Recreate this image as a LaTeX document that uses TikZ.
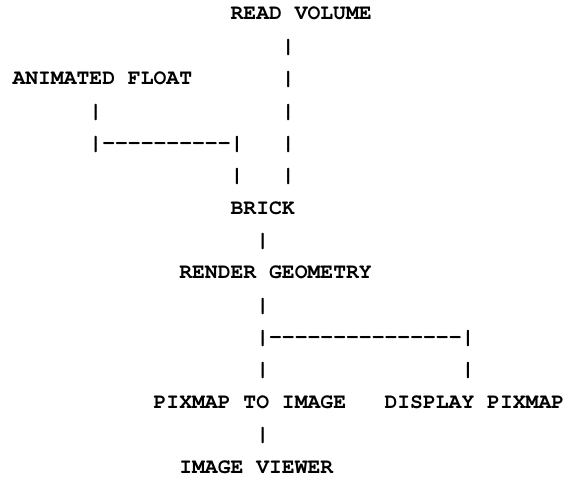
\documentclass[tikz,border=0pt]{standalone}
\usepackage[T1]{fontenc}
\usepackage{courier}
\newcommand\hy{-\kern0pt }
\newcommand\monofont{\fontfamily{pcr}\fontseries{b}\selectfont}
\begin{document}
\begin{tikzpicture}[x=0.75pt,y=-0.75pt,
  txt/.style={anchor=base west,inner sep=0pt,outer sep=0pt,
    font=\fontsize{16.04pt}{20pt}\monofont}]
\useasboundingbox (0,0) rectangle (564,477);
% labels
\node[txt] (rv)  at (12.5+17*12.83, 20+0*32.36)  {READ VOLUME};
\node[txt] (af)  at (12.5+0*12.83,  20+2*32.36)  {ANIMATED FLOAT};
\node[txt] (br)  at (12.5+17*12.83, 20+6*32.36)  {BRICK};
\node[txt] (rg)  at (12.5+13*12.83, 20+8*32.36)  {RENDER GEOMETRY};
\node[txt] (pti) at (12.5+11*12.83, 20+12*32.36) {PIXMAP TO IMAGE};
\node[txt] (dp)  at (12.5+29*12.83, 20+12*32.36) {DISPLAY PIXMAP};
\node[txt] (iv)  at (12.5+13*12.83, 20+14*32.36) {IMAGE VIEWER};
% connectors (printed characters)
\foreach \r in {1,...,5}
  \node[txt] (rvbar\r) at (12.5+21*12.83, 20+\r*32.36) {|};
\node[txt] (afbar) at (12.5+6*12.83, 20+3*32.36) {|};
\node[txt] (afjoin) at (12.5+6*12.83, 20+4*32.36) {|\hy\hy\hy\hy\hy\hy\hy\hy\hy\hy|};
\node[txt] (brbar) at (12.5+17*12.83, 20+5*32.36) {|};
\node[txt] (rgbar) at (12.5+19*12.83, 20+7*32.36) {|};
\node[txt] (rgbara) at (12.5+19*12.83, 20+9*32.36) {|};
\node[txt] (split) at (12.5+19*12.83, 20+10*32.36) {|\hy\hy\hy\hy\hy\hy\hy\hy\hy\hy\hy\hy\hy\hy\hy|};
\node[txt] (ptibar) at (12.5+19*12.83, 20+11*32.36) {|};
\node[txt] (dpbar) at (12.5+35*12.83, 20+11*32.36) {|};
\node[txt] (ivbar) at (12.5+19*12.83, 20+13*32.36) {|};
\end{tikzpicture}
\end{document}
